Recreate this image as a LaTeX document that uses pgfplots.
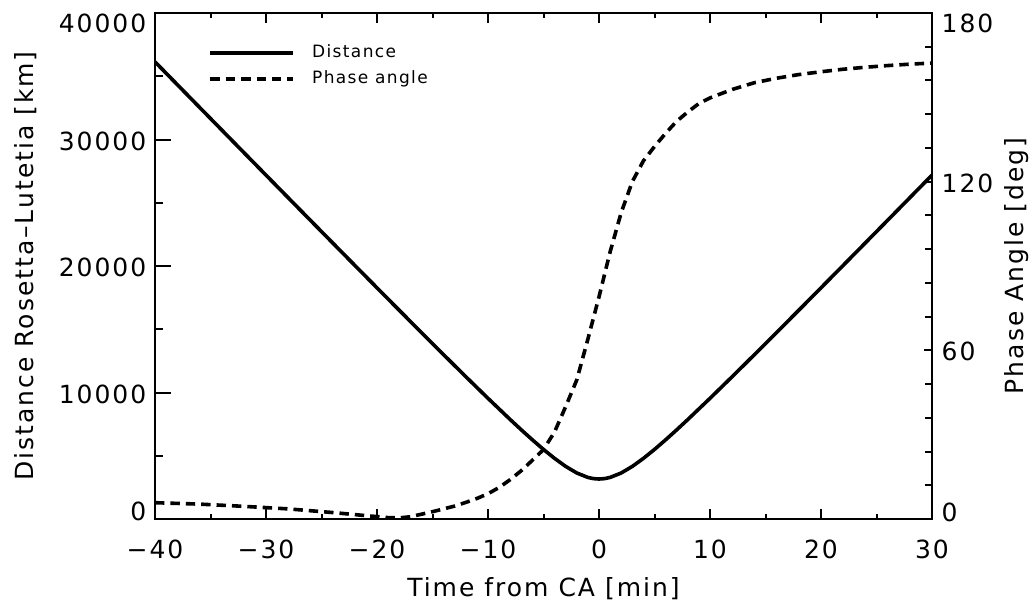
\documentclass[border=0pt]{standalone}
\usepackage{fontspec}
\setmainfont[LetterSpace=8]{DejaVu Sans}
\usepackage{pgfplots}
\usepackage{pgfplotstable}
\pgfplotsset{compat=1.18}

% distance Rosetta-Lutetia [km] vs time from CA [min]
\pgfplotstableread{
t    d
-40  36138
-38  34346
-36  32554
-34  30763
-32  28973
-30  27184
-28  25397
-26  23612
-24  21830
-22  20051
-20  18275
-18  16505
-16  14743
-14  12990
-12  11253
-10  9539
-8   7863
-7   7048
-6   6257
-5   5499
-4   4791
-3   4157
-2   3637
-1   3286
-0.5 3192
0    3160
0.5  3192
1    3286
2    3637
3    4157
4    4791
5    5499
6    6257
7    7048
8    7863
10   9539
12   11253
14   12990
16   14743
18   16505
20   18275
22   20051
24   21830
26   23612
28   25397
30   27184
}\distdata

% phase angle [deg]
\pgfplotstableread{
t    p
-40  5.8
-36  5.3
-32  4.5
-28  3.6
-24  2.3
-21  1.2
-19  0.5
-18  0.4
-17  0.8
-16  1.7
-15  2.6
-14  3.6
-13  4.6
-12  5.9
-11  7.3
-10  9.0
-9   11.2
-8   14.0
-7   17.2
-6   20.9
-5   24.7
-4   31.0
-3   40.0
-2   49.5
-1   64.0
0    79.0
1    95.0
2    109.0
3    120.0
4    127.4
5    132.5
6    137.2
7    141.5
8    144.8
9    147.8
10   149.8
12   152.8
14   155.2
16   156.8
18   158.1
20   159.1
22   160.0
24   160.7
26   161.3
28   161.8
30   162.2
}\phasedata

\pgfplotsset{
  every axis/.append style={
    scale only axis, width=388.5pt, height=253pt,
    xmin=-40, xmax=30,
    font=\fontsize{12.5}{15}\selectfont,
    axis line style={line width=1pt},
    every tick/.style={line width=1pt, black},
    tick align=inside,
    scaled ticks=false,
  },
}

\begin{document}
\begin{tikzpicture}
\useasboundingbox (-77.5pt,-43.5pt) rectangle (439pt,259.5pt);

% frame + x axis
\begin{axis}[
  ymin=0, ymax=40000, ytick=\empty,
  xtick={-40,-30,...,30}, minor x tick num=1,
  xticklabels={−40,−30,−20,−10,0,10,20,30},
  major tick length=5pt, minor tick length=2.5pt,
  xticklabel style={yshift=-6.8pt},
  xlabel={Time from CA [min]},
  every axis x label/.style={at={(axis description cs:0.5,0)}, anchor=base, yshift=-38.5pt},
]
\end{axis}

% left axis: distance
\begin{axis}[
  ymin=0, ymax=40000, xtick=\empty,
  ytick={0,10000,...,40000}, minor y tick num=1,
  ytick pos=left,
  yticklabels={0,10000,20000,30000,40000},
  major tick length=7.75pt, minor tick length=3.9pt,
  yticklabel style={xshift=-0.8pt,
    yshift={ifthenelse(\ticknum==0,3.75,ifthenelse(\ticknum==4,-5.25,-0.75))*1pt}},
  ylabel={Distance Rosetta–Lutetia [km]},
  every axis y label/.style={at={(axis description cs:0,0.5)}, rotate=90, anchor=base, yshift=60.75pt},
]
\addplot[black, line width=1.8pt] table[x=t, y=d] {\distdata};
\end{axis}

% right axis: phase angle
\begin{axis}[
  ymin=0, ymax=180, xtick=\empty,
  ytick={0,60,...,180}, minor y tick num=4,
  ytick pos=right, yticklabel pos=right,
  yticklabels={0,60,120,180},
  major tick length=4pt, minor tick length=3.5pt,
  yticklabel style={xshift=1.3pt,
    yshift={ifthenelse(\ticknum==0,3.5,ifthenelse(\ticknum==3,-5.25,-0.75))*1pt}},
  ylabel={Phase Angle [deg]},
  every axis y label/.style={at={(axis description cs:1,0.5)}, rotate=90, anchor=base, yshift=-45.5pt},
  legend style={draw=none, fill=none, at={(rel axis cs:0.0685,0.938)}, anchor=north west,
    font=\fontsize{8.5}{10}\selectfont, inner sep=0pt, row sep=4.7pt, column sep=8.5pt,
    nodes={inner sep=0pt, text height=6.5pt, text depth=1.8pt}},
  legend cell align=left,
  legend image code/.code={\draw[#1] (0pt,0pt) -- (41.5pt,0pt);},
]
\addlegendimage{black, line width=1.8pt}
\addlegendentry{Distance}
\addplot[black, line width=1.8pt, dash pattern=on 4.7pt off 3pt] table[x=t, y=p] {\phasedata};
\addlegendentry{Phase angle}
\end{axis}
\end{tikzpicture}
\end{document}
